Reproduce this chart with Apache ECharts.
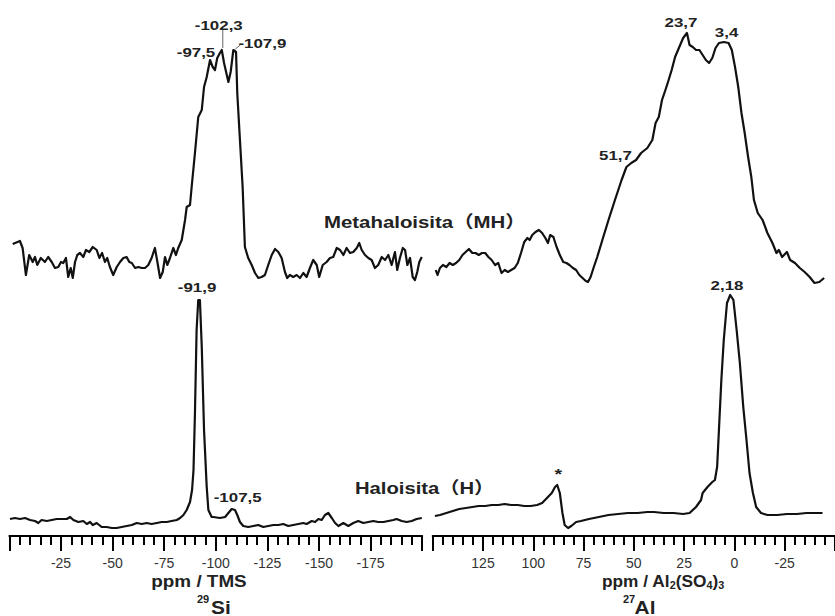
<!DOCTYPE html>
<html><head><meta charset="utf-8">
<script src="https://cdn.jsdelivr.net/npm/echarts@6/dist/echarts.min.js"></script>
<style>html,body{margin:0;padding:0;background:#fff}#c{width:835px;height:616px}</style>
</head><body><div id="c"></div>
<script>
// ---- 29Si, Metahaloisita (MH) ----
const siMH_ppm = [-1.6,-5.1,-6.4,-8.0,-9.6,-11.3,-12.4,-13.5,-15.2,-17.2,
-18.8,-20.5,-22.1,-23.7,-25.0,-26.1,-27.4,-28.5,-29.7,-30.7,
-31.8,-32.9,-34.2,-35.8,-37.1,-38.7,-40.4,-42.3,-43.6,-44.9,
-46.3,-47.4,-48.7,-50.3,-52.0,-53.6,-55.2,-56.8,-58.1,-59.3,
-60.9,-62.5,-64.1,-65.7,-67.3,-68.9,-70.5,-71.7,-73.0,-74.3,
-75.4,-76.5,-77.8,-79.4,-80.7,-81.8,-83.5,-85.1,-85.9,-87.5,
-88.3,-89.9,-91.5,-93.2,-94.3,-95.6,-97.2,-98.5,-99.6,-100.7,
-102.0,-102.9,-104.0,-106.1,-107.2,-108.5,-109.8,-110.4,-111.7,-113.0,
-114.1,-115.7,-117.4,-119.0,-120.6,-122.2,-123.8,-125.4,-127.1,-128.7,
-130.3,-131.9,-133.5,-134.6,-135.9,-137.5,-139.2,-140.8,-142.4,-144.0,
-145.6,-147.2,-148.9,-150.1,-151.8,-153.7,-155.3,-156.9,-158.6,-160.2,
-161.8,-163.4,-165.0,-166.6,-168.3,-169.5,-170.7,-172.3,-173.9,-175.5,
-177.1,-178.7,-180.4,-182.0,-183.6,-185.2,-186.8,-187.9,-189.2,-190.6,
-191.7,-192.8,-194.1,-195.4,-196.5,-197.6,-198.6,-199.8];
const siMH_int = [36,39,32,5,25,18,23,15,22,18,
23,18,12,13,18,17,22,3,12,2,
18,25,27,23,30,28,33,30,22,27,
18,22,13,5,13,18,22,23,18,17,
12,13,12,12,15,22,32,18,2,8,
23,15,22,32,25,32,40,60,73,75,
93,127,163,170,193,203,220,213,210,222,
227,230,217,198,208,230,228,187,140,93,
33,22,15,7,2,3,5,15,25,31,
28,22,8,2,5,3,5,2,7,3,
12,20,15,3,15,18,22,23,32,30,
25,32,27,28,32,37,30,25,22,20,
12,15,23,20,25,15,28,10,22,32,
30,15,22,3,0,8,18,23];

// ---- 29Si, Haloisita (H) ----
const siH_ppm = [-0.3,-2.7,-5.1,-7.6,-10.0,-12.4,-14.0,-15.6,-18.1,-20.5,
-22.9,-25.3,-27.8,-29.4,-31.0,-33.4,-35.8,-37.5,-39.1,-40.4,
-42.3,-44.7,-47.1,-49.6,-52.0,-54.4,-56.8,-59.3,-61.7,-64.1,
-66.5,-68.9,-71.4,-73.8,-76.2,-78.6,-81.1,-82.7,-84.3,-85.9,
-87.5,-88.5,-89.2,-89.9,-90.7,-91.5,-92.3,-93.2,-94.3,-95.6,
-96.4,-98.0,-98.8,-102.0,-104.5,-106.1,-107.7,-109.3,-110.4,-111.7,
-113.3,-115.7,-118.2,-120.6,-123.0,-125.4,-127.9,-130.3,-132.7,-135.1,
-137.5,-140.0,-142.4,-144.0,-146.5,-148.1,-149.7,-151.3,-152.9,-154.5,
-156.2,-157.8,-159.4,-161.8,-164.2,-166.6,-169.0,-171.5,-173.9,-176.3,
-178.7,-181.2,-183.6,-186.0,-187.6,-190.1,-192.5,-194.9,-197.3,-199.8];
const siH_int = [11,12,11,12,10,9,7,10,9,10,
11,11,11,13,10,8,9,6,8,5,
7,3,3,2,2,3,4,5,7,6,
7,6,7,8,8,9,10,12,15,20,
28,40,60,117,200,230,230,183,100,43,
20,13,13,12,13,17,21,20,15,8,
4,3,4,5,3,4,5,5,6,4,
5,6,7,6,9,8,11,10,15,17,
12,7,4,7,4,7,9,7,8,9,
8,8,9,10,11,9,8,9,11,12];

// ---- 27Al, Metahaloisita (MH) ----
const alMH_ppm = [148.5,147.6,146.4,144.9,143.2,141.6,140.0,138.4,136.8,135.2,
133.6,132.0,130.3,128.7,127.1,125.5,123.9,122.3,120.7,119.0,
117.4,115.8,114.2,112.6,111.0,109.3,107.7,106.1,104.5,102.9,
101.8,100.5,98.9,97.2,95.6,94.0,92.7,91.6,90.0,88.4,
86.8,85.1,83.5,82.0,80.3,78.7,77.1,75.5,73.9,72.8,
71.5,69.9,68.2,65.8,62.6,59.4,56.1,53.7,51.3,48.9,
46.4,43.3,40.8,39.2,37.6,36.0,34.3,32.7,31.2,29.5,
27.4,25.5,23.6,22.3,20.7,19.1,17.4,15.8,14.2,12.6,
11.0,9.4,7.7,5.3,2.9,1.3,-0.3,-1.9,-3.5,-5.1,
-6.8,-8.4,-9.7,-11.6,-14.0,-16.4,-18.9,-20.9,-22.1,-23.7,
-26.1,-27.7,-30.1,-32.5,-34.9,-37.4,-39.8,-42.2,-44.6];
const alMH_int = [10,5,12,15,13,17,15,17,20,25,
28,31,27,27,25,27,27,23,20,15,
17,7,10,8,10,12,17,27,38,42,
40,45,48,50,47,42,37,45,43,33,
25,18,17,15,12,10,5,2,-1,-2,
3,13,23,39,60,80,100,113,117,120,
127,132,140,157,163,180,190,200,210,223,
233,242,247,235,233,230,230,225,220,217,
222,232,237,238,237,230,213,193,167,147,
123,103,80,67,60,47,37,27,30,23,
28,20,17,12,8,3,-3,-2,2];

// ---- 27Al, Haloisita (H) ----
const alH_ppm = [148.9,146.4,143.2,140.0,136.8,133.5,130.3,127.1,123.9,120.7,
117.4,114.2,111.0,107.7,104.5,101.3,98.1,95.6,93.2,90.8,
89.2,88.1,86.8,85.5,84.4,82.7,81.1,78.7,76.3,72.3,
67.4,62.6,57.8,52.9,48.1,43.3,40.0,35.2,30.3,25.5,
22.3,19.1,16.6,15.8,13.4,11.0,9.7,8.6,7.7,6.5,
5.3,3.7,2.1,0.5,-1.1,-2.7,-4.4,-6.0,-7.5,-9.2,
-10.8,-13.2,-16.4,-21.3,-26.1,-31.0,-35.8,-39.8,-43.8];
const alH_int = [14,15,17,19,21,22,23,24,24,25,
25,26,25,25,24,24,25,27,32,37,
43,45,37,17,5,2,4,8,9,11,
13,15,16,17,17,18,18,17,17,16,
17,23,30,37,43,48,50,63,100,150,
190,227,235,230,200,167,123,90,57,37,
23,17,15,15,16,16,17,17,17];

// axis ranges (ppm)
const siRange = [-200, 0];
const alRange = [-50, 150];
const tickStep = 25;

// peak annotations: [gridIndex, ppm, intensity, text, dx, dy]
const peakLabels = [
  [0, -102.9, 230, '-102,3', -3, -25],
  [0, -97.2, 220, '-97,5', -14, -8],
  [0, -108.5, 230, '-107,9', 29, -7],
  [1, -91.9, 230, '-91,9', -2, -13],
  [1, -107.7, 21, '-107,5', 6, -12],
  [2, 23.6, 247, '23,7', -6, -11],
  [2, 3.4, 238, '3,4', -1, -10],
  [2, 51.7, 117, '51,7', -15, -8],
  [3, 2.18, 235, '2,18', -3, -10],
  [3, 88.1, 45, '*', 1, -11]
];

const FONT = '"Liberation Sans", Arial, "Noto Sans CJK SC", sans-serif';
const chart = echarts.init(document.getElementById('c'), null, {renderer: 'svg'});

const pairs = (p, v) => p.map((x, i) => [x, v[i]]);

const grids = [
  {left: 9.4, width: 412.8, top: 30, height: 260},
  {left: 9.4, width: 412.8, top: 290, height: 246},
  {left: 432.7, width: 413.4, top: 30, height: 260},
  {left: 432.7, width: 413.4, top: 290, height: 246}
];

function xAx(gi, range, visible) {
  return {
    gridIndex: gi, type: 'value', min: range[0], max: range[1], inverse: true,
    interval: tickStep, show: visible,
    axisLine: {show: true, onZero: false, lineStyle: {color: '#000', width: 2}},
    axisTick: {show: true, length: 15, lineStyle: {color: '#000', width: 2}},
    minorTick: {show: true, splitNumber: 5, length: 9, lineStyle: {color: '#000', width: 2}},
    axisLabel: {show: true, showMinLabel: false, showMaxLabel: false, margin: 20,
      fontSize: 14, color: '#333', fontFamily: FONT},
    splitLine: {show: false}, minorSplitLine: {show: false}
  };
}
function yAx(gi, min, max) {
  return {gridIndex: gi, type: 'value', min: min, max: max, show: false, splitLine: {show: false}};
}
function ser(gi, p, v) {
  return {type: 'line', xAxisIndex: gi, yAxisIndex: gi, data: pairs(p, v), showSymbol: false,
    symbol: 'none', clip: false, animation: false,
    lineStyle: {color: '#111', width: 2.2, join: 'round'}};
}

chart.setOption({
  animation: false,
  backgroundColor: '#fff',
  grid: grids,
  xAxis: [xAx(0, siRange, false), xAx(1, siRange, true), xAx(2, alRange, false), xAx(3, alRange, true)],
  yAxis: [yAx(0, -10, 250), yAx(1, -6, 240), yAx(2, -10, 250), yAx(3, -6, 240)],
  series: [ser(0, siMH_ppm, siMH_int), ser(1, siH_ppm, siH_int), ser(2, alMH_ppm, alMH_int), ser(3, alH_ppm, alH_int)]
});

const gfx = [];
function txt(x, y, text, size, opts) {
  opts = opts || {};
  gfx.push({type: 'text', x: x, y: y, scaleX: opts.sx || 1, z: 10,
    style: {text: text, fill: opts.fill || '#222', textAlign: opts.align || 'center', textVerticalAlign: 'middle',
      font: (opts.weight || 'bold') + ' ' + size + 'px ' + FONT, rich: opts.rich}});
}
peakLabels.forEach(function (a) {
  const p = chart.convertToPixel({xAxisIndex: a[0], yAxisIndex: a[0]}, [a[1], a[2]]);
  txt(p[0] + a[4], p[1] + a[5], a[3], a[3] === '*' ? 15 : 13, {sx: 1.3});
});
// leader lines
(function () {
  const p = chart.convertToPixel({xAxisIndex: 0, yAxisIndex: 0}, [-102.9, 230]);
  gfx.push({type: 'line', z: 9, shape: {x1: p[0] + 1, y1: p[1] - 21, x2: p[0] + 1, y2: p[1] - 2},
    style: {stroke: '#666', lineWidth: 1}});
  const q = chart.convertToPixel({xAxisIndex: 0, yAxisIndex: 0}, [-108.5, 230]);
  gfx.push({type: 'line', z: 9, shape: {x1: q[0] + 2, y1: q[1] - 1, x2: q[0] + 7, y2: q[1] - 5},
    style: {stroke: '#666', lineWidth: 1}});
})();

// sample names
txt(324, 222, 'Metahaloisita（MH）', 17, {align: 'left', sx: 1.2});
txt(355, 488, 'Haloisita（H）', 17, {align: 'left', sx: 1.19});

// axis titles
txt(199, 582, 'ppm / TMS', 16, {sx: 1.18});
txt(203, 599, '29', 11, {});
txt(221, 607, 'Si', 19, {sx: 1.1});
txt(663, 582, '{a|ppm / Al}{b|2}{a|(SO}{b|4}{a|)}{b|3}', 16, {sx: 1.08,
  rich: {a: {fontSize: 16, fontWeight: 'bold', fontFamily: FONT, fill: '#222'},
         b: {fontSize: 10, fontWeight: 'bold', fontFamily: FONT, fill: '#222', padding: [8, 0, 0, 0]}}});
txt(629, 599, '27', 11, {});
txt(645, 607, 'Al', 19, {sx: 1.1});

chart.setOption({graphic: {elements: gfx}});
</script>
</body></html>
